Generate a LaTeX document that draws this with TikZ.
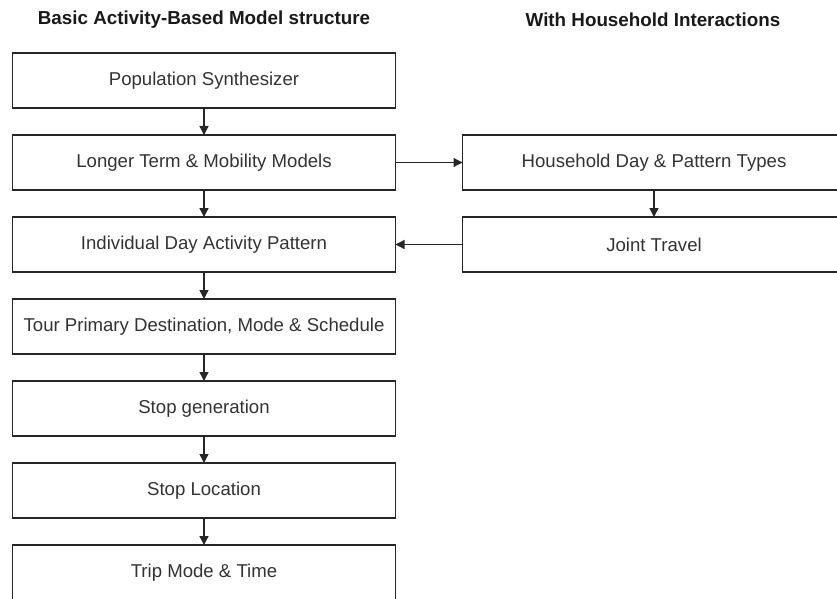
\documentclass[tikz,border=0pt]{standalone}
\usepackage{fontspec}
\setmainfont{Liberation Sans}
\usetikzlibrary{arrows.meta,positioning}

\tikzset{
  stage/.style={rectangle, draw=black!85, line width=1.2bp, minimum width=383bp,
    minimum height=55bp, inner sep=2bp, outer sep=0pt, text=black!80,
    font=\fontsize{18.6bp}{22bp}\selectfont},
  heading/.style={font=\fontsize{18.8bp}{22bp}\selectfont\bfseries, text=black!90},
  flow/.style={-{Triangle[length=9bp,width=9bp]}, line width=1.3bp, draw=black!85}
}

\begin{document}
\begin{tikzpicture}[x=1bp,y=-1bp]
        \useasboundingbox (0,0) rectangle (837,599);
        \clip (0,0) rectangle (837,599);

        \node[heading] (head1) at (204,20) {Basic Activity-Based Model structure};
        \node[heading] (head2) at (653,20) {With Household Interactions};

        \node[stage] (popsyn) at (204,80.5) {Population Synthesizer};
        \node[stage, below = 27bp of popsyn] (longterm) {Longer Term \& Mobility Models};
        \node[stage, below = 27bp of longterm] (daypat) {Individual Day Activity Pattern};
        \node[stage, below = 27bp of daypat] (tour) {Tour Primary Destination, Mode \& Schedule};
        \node[stage, below = 27bp of tour] (stopgen) {Stop generation};
        \node[stage, below = 27bp of stopgen] (stoploc) {Stop Location};
        \node[stage, below = 27bp of stoploc] (trip) {Trip Mode \& Time};

        \node[stage, right = 67bp of longterm] (hhday) {Household Day \& Pattern Types};
        \node[stage, below = 27bp of hhday] (joint) {Joint Travel};

        \draw[flow] (popsyn) -- (longterm);
        \draw[flow] (longterm) -- (daypat);
        \draw[flow] (daypat) -- (tour);
        \draw[flow] (tour) -- (stopgen);
        \draw[flow] (stopgen) -- (stoploc);
        \draw[flow] (stoploc) -- (trip);
        \draw[flow] (longterm) -- (hhday);
        \draw[flow] (hhday) -- (joint);
        \draw[flow] (joint) -- (daypat);

        \end{tikzpicture}
\end{document}
